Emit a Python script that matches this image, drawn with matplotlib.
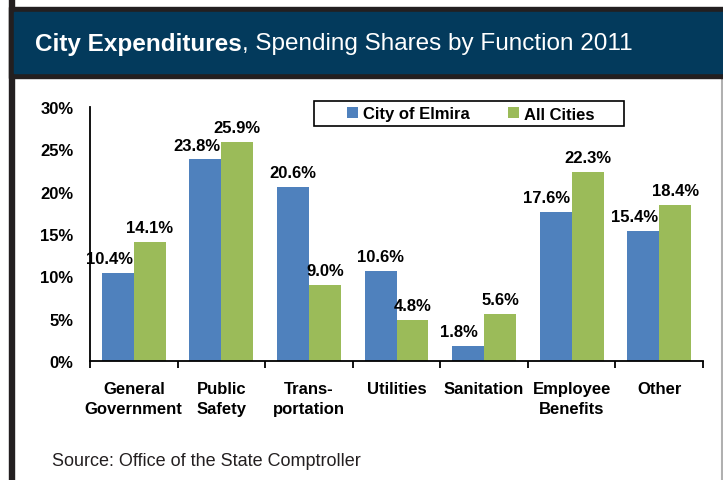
import numpy as np
import matplotlib
matplotlib.use("Agg")
import matplotlib.pyplot as plt
from matplotlib.patches import Rectangle
from matplotlib.lines import Line2D

# data
categories = ["General\nGovernment", "Public\nSafety", "Trans-\nportation", "Utilities",
              "Sanitation", "Employee\nBenefits", "Other"]
elmira = [10.4, 23.8, 20.6, 10.6, 1.8, 17.6, 15.4]
all_cities = [14.1, 25.9, 9.0, 4.8, 5.6, 22.3, 18.4]
series_names = ["City of Elmira", "All Cities"]
yticks = [0, 5, 10, 15, 20, 25, 30]

BLUE = "#4F81BD"
GREEN = "#9BBB59"
NAVY = "#033A5C"
W, H = 723, 481

arial = ["Liberation Sans", "DejaVu Sans"]

fig = plt.figure(figsize=(W / 100, H / 100), dpi=100)

def fx(px):
    return px / W

def fy(py):
    return 1 - py / H

# frame and header band
fig.patches.append(Rectangle((fx(9), fy(481)), fx(5), 1, transform=fig.transFigure,
                             color="#231F20", zorder=5))
fig.patches.append(Rectangle((fx(9), fy(79)), 1, (79 - 8) / H, transform=fig.transFigure,
                             color="#231F20", zorder=4))
fig.patches.append(Rectangle((fx(14), fy(74)), 1, (74 - 13) / H, transform=fig.transFigure,
                             color=NAVY, zorder=5))
fig.lines.append(Line2D([fx(721.5), fx(721.5)], [0, fy(79)], transform=fig.transFigure,
                        color="#B0B0B0", lw=1.5))

t1 = fig.text(fx(35), fy(44), "City Expenditures", color="white", fontsize=17.5,
              fontweight="bold", family=arial, va="center", ha="left", zorder=6)
fig.canvas.draw()
bb = t1.get_window_extent()
fig.text(bb.x1 / W, fy(44), ", Spending Shares by Function 2011", color="white",
         fontsize=17.5, family=arial, va="center", ha="left", zorder=6)

# chart
ax = fig.add_axes([fx(90), fy(362), fx(703) - fx(90), (362 - 108) / H])
x = np.arange(len(categories))
bw = 0.365
ax.bar(x - bw / 2, elmira, bw, color=BLUE, label=series_names[0], zorder=2)
ax.bar(x + bw / 2, all_cities, bw, color=GREEN, label=series_names[1], zorder=2)

for i in range(len(categories)):
    shift = -0.1 if all_cities[i] > elmira[i] else 0
    ax.annotate(f"{elmira[i]:.1f}%", (x[i] - bw / 2 + shift, elmira[i]), xytext=(0, 5),
                textcoords="offset points", ha="center", va="bottom",
                fontsize=12, fontweight="bold", family=arial)
    ax.annotate(f"{all_cities[i]:.1f}%", (x[i] + bw / 2, all_cities[i]), xytext=(0, 5),
                textcoords="offset points", ha="center", va="bottom",
                fontsize=12, fontweight="bold", family=arial)

ax.set_xlim(-0.5, len(categories) - 0.5)
ax.set_ylim(0, 30)
ax.set_yticks(yticks)
ax.set_yticklabels([f"{v}%" for v in yticks], fontsize=12, fontweight="bold", family=arial)
ax.tick_params(axis="y", length=0, pad=12)
ax.set_xticks(np.arange(len(categories) + 1) - 0.5)
ax.set_xticklabels([])
ax.tick_params(axis="x", length=5, width=1.3, direction="out")
for i, c in enumerate(categories):
    ax.text(x[i], -2.4, c, ha="center", va="top", fontsize=12, fontweight="bold",
            family=arial, linespacing=1.35)

for s in ["top", "right"]:
    ax.spines[s].set_visible(False)
for s in ["left", "bottom"]:
    ax.spines[s].set_linewidth(1.3)

leg = ax.legend(loc="center", bbox_to_anchor=(fx(471), fy(115)),
                bbox_transform=fig.transFigure, ncol=2, frameon=False,
                prop={"family": arial, "weight": "bold", "size": 12},
                handlelength=0.65, handleheight=0.65, handletextpad=0.3,
                columnspacing=2.3, borderpad=0.1, borderaxespad=0)
fig.patches.append(Rectangle((fx(314), fy(127)), fx(624) - fx(314), 25 / H,
                             transform=fig.transFigure, fill=False, edgecolor="black",
                             lw=1.2, zorder=3))

fig.text(fx(52), fy(462), "Source: Office of the State Comptroller", fontsize=13,
         family=arial, va="center", ha="left", color="#231F20")

fig.savefig("out.png", dpi=100)
